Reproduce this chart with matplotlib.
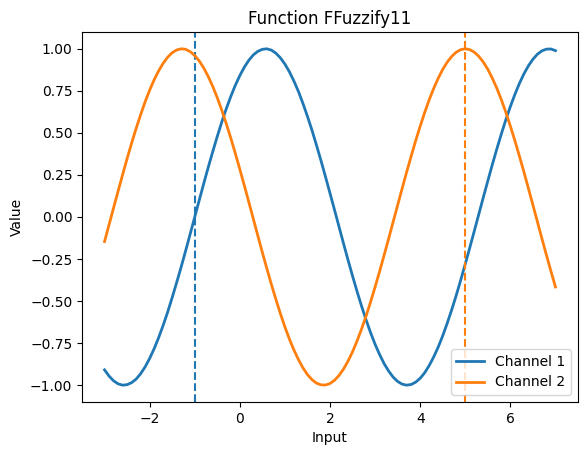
import matplotlib
matplotlib.use("Agg")
import matplotlib.pyplot as plt

# input grid (-3 .. 7, step 0.1) and the two channel responses
inputs = [round(-3.0 + 0.1 * i, 1) for i in range(101)]

channel_1 = [-0.909, -0.946, -0.974, -0.992, -1.000, -0.997, -0.985, -0.964, -0.932, -0.891,
             -0.841, -0.783, -0.717, -0.644, -0.565, -0.479, -0.389, -0.296, -0.199, -0.100,
             0.000, 0.100, 0.199, 0.296, 0.389, 0.479, 0.565, 0.644, 0.717, 0.783,
             0.841, 0.891, 0.932, 0.964, 0.985, 0.997, 1.000, 0.992, 0.974, 0.946,
             0.909, 0.863, 0.808, 0.746, 0.675, 0.598, 0.516, 0.427, 0.335, 0.239,
             0.141, 0.042, -0.058, -0.158, -0.256, -0.351, -0.443, -0.530, -0.612, -0.688,
             -0.757, -0.818, -0.872, -0.916, -0.952, -0.978, -0.994, -1.000, -0.996, -0.982,
             -0.959, -0.926, -0.883, -0.832, -0.773, -0.706, -0.631, -0.551, -0.465, -0.374,
             -0.279, -0.182, -0.083, 0.017, 0.117, 0.215, 0.312, 0.405, 0.494, 0.579,
             0.657, 0.729, 0.794, 0.851, 0.899, 0.938, 0.968, 0.988, 0.998, 0.999, 0.989]

channel_2 = [-0.146, -0.046, 0.054, 0.153, 0.251, 0.347, 0.439, 0.526, 0.608, 0.685,
             0.754, 0.816, 0.869, 0.914, 0.950, 0.977, 0.993, 1.000, 0.997, 0.983,
             0.960, 0.928, 0.886, 0.835, 0.776, 0.709, 0.635, 0.554, 0.469, 0.378,
             0.284, 0.187, 0.088, -0.012, -0.112, -0.211, -0.307, -0.401, -0.490, -0.575,
             -0.654, -0.726, -0.791, -0.848, -0.897, -0.937, -0.967, -0.988, -0.998, -0.999,
             -0.990, -0.971, -0.942, -0.904, -0.857, -0.801, -0.737, -0.666, -0.589, -0.505,
             -0.416, -0.323, -0.227, -0.129, -0.029, 0.071, 0.170, 0.268, 0.362, 0.454,
             0.540, 0.622, 0.697, 0.765, 0.825, 0.878, 0.921, 0.955, 0.980, 0.995,
             1.000, 0.995, 0.980, 0.955, 0.921, 0.878, 0.825, 0.765, 0.697, 0.622,
             0.540, 0.454, 0.362, 0.268, 0.170, 0.071, -0.029, -0.129, -0.227, -0.323, -0.416]

labels = ["Channel 1", "Channel 2"]
markers_x = [-1, 5]

fig = plt.figure(figsize=(5.87, 4.55), dpi=100)
ax = fig.add_axes([0.1397, 0.1165, 0.845, 0.8132])

for i, (vals, lab) in enumerate(zip([channel_1, channel_2], labels)):
    ax.plot(inputs, vals, color=f"C{i}", lw=2, label=lab)
    ax.axvline(markers_x[i], color=f"C{i}", ls="--")

ax.set_title("Function FFuzzify11")
ax.set_xlabel("Input")
ax.set_ylabel("Value")
ax.legend(loc="lower right")

fig.savefig("out.png", dpi=100)
